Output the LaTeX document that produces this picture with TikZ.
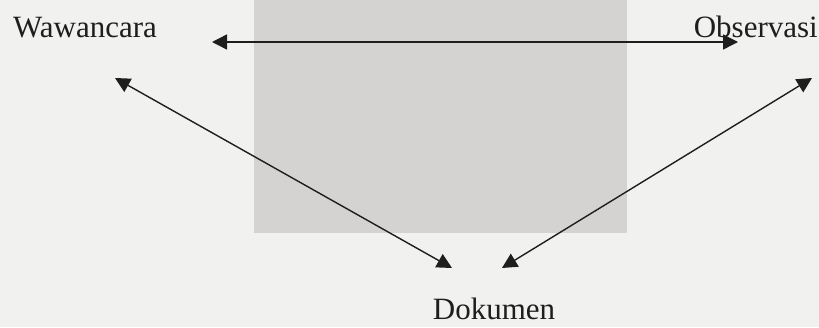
\documentclass[tikz,border=0pt]{standalone}
\usepackage{fontspec}
\setmainfont{Liberation Serif}
\usetikzlibrary{arrows.meta,positioning}
\definecolor{bggray}{RGB}{241,241,240}
\definecolor{boxgray}{RGB}{212,211,209}
\definecolor{inkgray}{RGB}{30,30,30}

\begin{document}
\begin{tikzpicture}[x=1pt,y=-1pt,
        lbl/.style={inner sep=0pt,text depth=0pt,text=inkgray,font=\fontsize{31}{37}\selectfont},
        arr/.style={{Triangle[length=15pt,width=15pt]}-{Triangle[length=15pt,width=15pt]},
                    line width=1.4pt,draw=inkgray}]
      \useasboundingbox (0,0) rectangle (819,327);
      \fill[bggray] (0,0) rectangle (819,327);
      \fill[boxgray] (254,0) rectangle (627,233);
      \node[lbl,anchor=base west] (waw) at (13,37)  {Wawancara};
      \node[lbl,anchor=base east] (obs) at (818,37) {Observasi};
      \node[lbl,anchor=base]      (dok) at (494,319) {Dokumen};
      % arrow ends
      \coordinate (wawR) at (212,42);
      \coordinate (wawB) at (115,78);
      \coordinate (obsL) at (738,42);
      \coordinate (obsB) at (812,78);
      \coordinate (dokL) at (452,268);
      \coordinate (dokR) at (502,268);
      \foreach \a/\b in {wawR/obsL,wawB/dokL,obsB/dokR}{
        \draw[arr] (\a)--(\b);
      }
    \end{tikzpicture}
\end{document}
